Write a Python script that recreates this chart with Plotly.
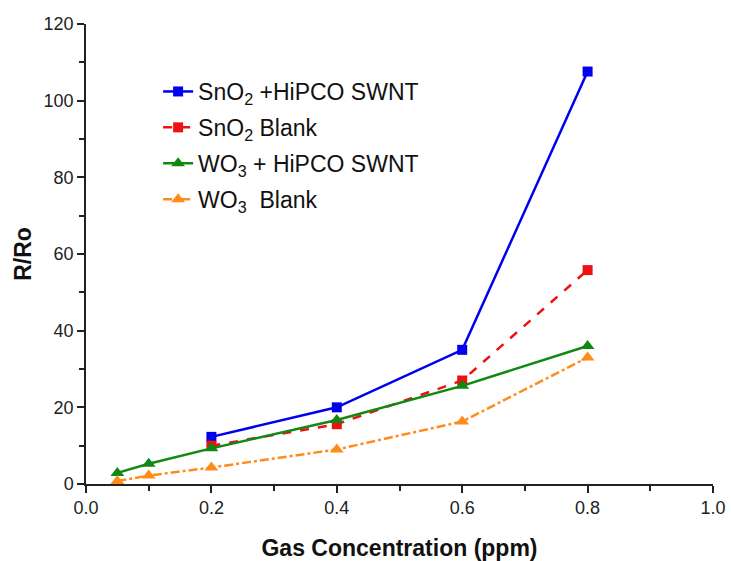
import plotly.graph_objects as go

x_blue = [0.2, 0.4, 0.6, 0.8]
y_blue = [12.3, 20.0, 35.0, 107.6]
x_red = [0.2, 0.4, 0.6, 0.8]
y_red = [10.0, 15.6, 27.0, 55.8]
x_green = [0.05, 0.1, 0.2, 0.4, 0.6, 0.8]
y_green = [2.9, 5.3, 9.3, 16.7, 25.6, 36.0]
x_orange = [0.05, 0.1, 0.2, 0.4, 0.6, 0.8]
y_orange = [0.8, 2.2, 4.3, 9.0, 16.3, 33.0]

names = ["SnO<sub>2</sub> +HiPCO SWNT", "SnO<sub>2</sub> Blank",
         "WO<sub>3</sub> + HiPCO SWNT", "WO<sub>3</sub>  Blank"]

fig = go.Figure()
fig.add_trace(go.Scatter(x=x_blue, y=y_blue, name=names[0], mode="lines+markers", legendgroup="a",
                         line=dict(color="#0000ee", width=2.5),
                         marker=dict(symbol="square", size=10, color="#0000ee")))
fig.add_trace(go.Scatter(x=x_red, y=y_red, name=names[1], mode="lines+markers", legendgroup="b",
                         line=dict(color="#ee1111", width=2.5, dash="dash"),
                         marker=dict(symbol="square", size=10, color="#ee1111")))
fig.add_trace(go.Scatter(x=x_green, y=y_green, name=names[2], mode="lines+markers", legendgroup="c",
                         line=dict(color="#118811", width=2.5),
                         marker=dict(symbol="triangle-up", size=12, color="#118811")))
fig.add_trace(go.Scatter(x=x_orange, y=y_orange, name=names[3], mode="lines+markers", legendgroup="d",
                         line=dict(color="#ff8c1a", width=2.5, dash="dashdot"),
                         marker=dict(symbol="triangle-up", size=12, color="#ff8c1a")))

axis_common = dict(showline=True, linecolor="#222", linewidth=1.5, ticks="outside",
                   ticklen=7, tickcolor="#222", tickwidth=1.5, showgrid=False,
                   zeroline=False, tickfont=dict(size=18, color="#222"),
                   mirror=False, automargin=False)

fig.update_layout(
    width=731, height=561,
    margin=dict(l=86, r=18, t=24, b=77),
    plot_bgcolor="white", paper_bgcolor="white",
    font=dict(family="Liberation Sans, Arial, sans-serif", color="#111"),
    xaxis=dict(range=[0, 1.0], dtick=0.2, tickformat=".1f",
               minor=dict(ticks="outside", dtick=0.1, ticklen=5, tickcolor="#222", tickwidth=1.5),
               title=dict(text="<b>Gas Concentration (ppm)</b>", font=dict(size=23), standoff=23),
               **axis_common),
    yaxis=dict(range=[0, 120], dtick=20,
               minor=dict(ticks="outside", dtick=10, ticklen=5, tickcolor="#222", tickwidth=1.5),
               title=dict(text="<b>R/Ro</b>", font=dict(size=23), standoff=6),
               **axis_common),
    legend=dict(x=0.115, y=0.9, xanchor="left", yanchor="top",
                font=dict(size=23, color="#111"), bgcolor="rgba(0,0,0,0)",
                tracegroupgap=3),
)

fig.write_html("out.html")
